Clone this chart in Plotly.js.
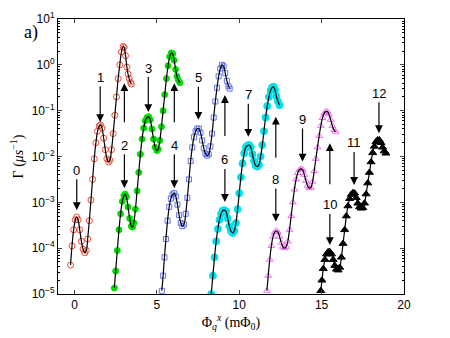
<!DOCTYPE html>
<html>
<head>
<meta charset="utf-8">
<script src="https://cdn.plot.ly/plotly-3.0.1.min.js"></script>
<style>
  html, body { margin: 0; padding: 0; background: #fff; }
  #plot { width: 450px; height: 338px; }
</style>
</head>
<body>
<div id="plot"></div>
<script>
// flux (mPhi0) and log10(Gamma / us^-1), one pair of arrays per run
var redX = [-0.24,-0.15,-0.05,0.05,0.13,0.22,0.32,0.42,0.52,0.62,0.72,0.8,0.9,1.0,1.1,1.2,1.3,1.4,1.5,1.58,1.67,1.77,1.87,1.97,2.07,2.15,2.25,2.35,2.45,2.55,2.65,2.75,2.85,2.95,3.02,3.1,3.18,3.25,3.32,3.4,3.45];
var redLog = [-4.37,-3.95,-3.6,-3.38,-3.32,-3.38,-3.6,-3.85,-4.02,-4.1,-4.05,-3.8,-3.4,-2.95,-2.5,-2.05,-1.7,-1.45,-1.33,-1.31,-1.38,-1.6,-1.85,-2.05,-2.12,-2.08,-1.85,-1.5,-1.1,-0.7,-0.3,0.0,0.28,0.4,0.38,0.2,-0.05,-0.2,-0.3,-0.38,-0.42];

var greenX = [2.42,2.5,2.6,2.7,2.8,2.9,3.0,3.07,3.15,3.25,3.35,3.45,3.52,3.6,3.7,3.8,3.9,4.0,4.1,4.2,4.3,4.4,4.5,4.6,4.7,4.8,4.9,5.0,5.08,5.18,5.28,5.38,5.48,5.58,5.68,5.78,5.88,5.96,6.05,6.14,6.22,6.3,6.4];
var greenLog = [-4.87,-4.5,-4.05,-3.6,-3.25,-2.98,-2.85,-2.82,-2.88,-3.1,-3.35,-3.52,-3.54,-3.45,-3.15,-2.75,-2.35,-1.95,-1.62,-1.38,-1.22,-1.15,-1.13,-1.2,-1.4,-1.62,-1.8,-1.87,-1.84,-1.65,-1.35,-1.0,-0.65,-0.3,-0.02,0.18,0.26,0.24,0.1,-0.1,-0.25,-0.33,-0.39];

var blueX = [5.3,5.38,5.46,5.55,5.65,5.75,5.85,5.95,6.05,6.15,6.25,6.35,6.45,6.55,6.65,6.75,6.85,6.95,7.05,7.15,7.25,7.35,7.45,7.55,7.65,7.75,7.85,7.95,8.05,8.15,8.25,8.35,8.45,8.55,8.65,8.75,8.85,8.95,9.05,9.15,9.25,9.35,9.42];
var blueLog = [-4.93,-4.6,-4.2,-3.8,-3.4,-3.1,-2.92,-2.83,-2.8,-2.87,-3.05,-3.28,-3.45,-3.52,-3.48,-3.25,-2.9,-2.5,-2.1,-1.8,-1.58,-1.45,-1.39,-1.39,-1.48,-1.65,-1.82,-1.94,-1.98,-1.95,-1.78,-1.5,-1.15,-0.8,-0.5,-0.25,-0.08,0.0,-0.03,-0.18,-0.35,-0.47,-0.52];

var cyanX = [8.3,8.4,8.5,8.6,8.7,8.8,8.9,9.0,9.1,9.2,9.3,9.4,9.5,9.6,9.7,9.8,9.9,10.0,10.1,10.2,10.3,10.4,10.5,10.6,10.7,10.8,10.9,11.0,11.1,11.2,11.3,11.4,11.5,11.6,11.7,11.8,11.9,12.0,12.08,12.17,12.25,12.35,12.45];
var cyanLog = [-5.0,-4.6,-4.2,-3.85,-3.58,-3.38,-3.25,-3.18,-3.17,-3.2,-3.35,-3.52,-3.63,-3.67,-3.62,-3.45,-3.15,-2.8,-2.45,-2.15,-1.93,-1.8,-1.76,-1.75,-1.8,-1.95,-2.1,-2.2,-2.22,-2.18,-2.0,-1.75,-1.45,-1.15,-0.9,-0.7,-0.56,-0.49,-0.48,-0.55,-0.68,-0.8,-0.88];

var magentaX = [11.68,11.76,11.85,11.95,12.05,12.15,12.25,12.35,12.45,12.55,12.65,12.75,12.85,12.95,13.05,13.15,13.25,13.35,13.45,13.55,13.65,13.75,13.85,13.95,14.05,14.15,14.25,14.35,14.45,14.55,14.65,14.75,14.85,14.95,15.05,15.15,15.25,15.35,15.45,15.55,15.65,15.75,15.85];
var magentaLog = [-4.93,-4.6,-4.25,-3.95,-3.75,-3.65,-3.62,-3.65,-3.75,-3.88,-3.97,-4.0,-3.97,-3.85,-3.6,-3.3,-3.0,-2.72,-2.5,-2.36,-2.29,-2.27,-2.29,-2.4,-2.53,-2.64,-2.69,-2.68,-2.55,-2.32,-2.05,-1.8,-1.55,-1.33,-1.16,-1.06,-1.02,-1.02,-1.08,-1.2,-1.33,-1.42,-1.46];

var blackX = [14.95,15.02,15.1,15.2,15.3,15.4,15.5,15.6,15.7,15.8,15.9,16.0,16.1,16.2,16.3,16.4,16.5,16.6,16.7,16.8,16.9,17.0,17.1,17.2,17.3,17.4,17.5,17.6,17.7,17.8,17.9,18.0,18.1,18.2,18.3,18.4,18.5,18.6,18.7,18.8,18.9];
var blackLog = [-4.93,-4.7,-4.45,-4.25,-4.13,-4.08,-4.08,-4.13,-4.25,-4.38,-4.46,-4.48,-4.42,-4.2,-3.9,-3.6,-3.3,-3.08,-2.92,-2.83,-2.79,-2.8,-2.9,-3.02,-3.1,-3.13,-3.12,-3.02,-2.82,-2.58,-2.35,-2.12,-1.92,-1.78,-1.68,-1.64,-1.64,-1.7,-1.8,-1.88,-1.93];

// level labels and where their arrows point (flux, log10 Gamma)
var levelLabels = ["0","1","2","3","4","5","6","7","8","9","10","11","12"];
var downTipX   = [0.14,1.56,3.03,4.48,6.06,7.52,9.13,10.55,12.22,13.84,15.5,16.97,18.48];
var downTipLog = [-3.17,-1.25,-2.69,-1.03,-2.69,-1.2,-2.99,-1.57,-3.42,-2.11,-3.93,-2.62,-1.49];
var upTipX   = [3.03,6.06,9.13,12.22,15.5];
var upTipLog = [-0.40,-0.40,-0.66,-1.13,-1.71];

// decade ticks on the log axis
var decades = [-5,-4,-3,-2,-1,0,1];

function toGamma(arr) { return arr.map(function(v) { return Math.pow(10, v); }); }

var runs = [
  {x: redX, y: redLog, color: "#ee4a33", symbol: "circle-open", size: 6},
  {x: greenX, y: greenLog, color: "#00dd00", symbol: "circle", size: 6},
  {x: blueX, y: blueLog, color: "#6173ee", symbol: "square-open", size: 5},
  {x: cyanX, y: cyanLog, color: "#00e3ea", symbol: "circle", size: 7},
  {x: magentaX, y: magentaLog, color: "#f070f0", symbol: "triangle-up-open", size: 6},
  {x: blackX, y: blackLog, color: "#000000", symbol: "triangle-up", size: 7}
];

var data = [];
runs.forEach(function(r) {
  data.push({
    x: r.x, y: toGamma(r.y), type: "scatter", mode: "markers",
    marker: {symbol: r.symbol, size: r.size, color: r.color, line: {color: r.color, width: 1}},
    hoverinfo: "none"
  });
});
runs.forEach(function(r) {
  data.push({
    x: r.x, y: toGamma(r.y), type: "scatter", mode: "lines",
    line: {color: "#000", width: 1.2, shape: "spline", smoothing: 1},
    hoverinfo: "none"
  });
});

function arrowNote(x, y, text, ay) {
  return {
    x: x, y: y, xref: "x", yref: "y", text: text, ax: 0, ay: ay,
    showarrow: true, arrowhead: 2, arrowsize: 1.3, arrowwidth: 1.2,
    arrowcolor: "#000000", standoff: 0,
    font: {family: "Liberation Sans, Arial, sans-serif", size: 13, color: "#000000"}
  };
}

var annotations = [];
var downOffset = [-40,-45,-43,-44,-43,-42,-42,-42,-42,-42,-40,-42,-40];
levelLabels.forEach(function(t, i) {
  annotations.push(arrowNote(downTipX[i], downTipLog[i], t, downOffset[i]));
});
var upOffset = [48,48,50,50,50];
upTipX.forEach(function(x, i) {
  annotations.push(arrowNote(x, upTipLog[i], " ", upOffset[i]));
});
annotations.push({
  text: "a)", xref: "paper", yref: "paper", x: -0.104, y: 0.995,
  showarrow: false, font: {family: "Liberation Serif, Times New Roman, serif", size: 18, color: "#000000"}
});

var majorVals = [], majorText = [], minorVals = [];
decades.forEach(function(p) {
  majorVals.push(Math.pow(10, p));
  majorText.push("10<sup>" + (p < 0 ? "−" + (-p) : p) + "</sup>");
  if (p < 1) {
    for (var k = 2; k <= 9; k++) minorVals.push(k * Math.pow(10, p));
  }
});

var layout = {
  width: 450,
  height: 338,
  margin: {l: 58, r: 46, t: 19, b: 44, pad: 0},
  paper_bgcolor: "#fff",
  plot_bgcolor: "#fff",
  showlegend: false,
  font: {family: "Liberation Sans, Arial, sans-serif", size: 12, color: "#000"},
  xaxis: {
    range: [-1, 20],
    tick0: 0,
    dtick: 5,
    ticks: "inside",
    ticklen: 4,
    showline: true,
    linecolor: "#000",
    linewidth: 1,
    mirror: "allticks",
    showgrid: false,
    zeroline: false,
    title: {text: "Φ<sub><i>q</i></sub><sup><i>x</i></sup> (mΦ<sub>0</sub>)", standoff: 3,
      font: {family: "Liberation Serif, Times New Roman, serif", size: 14}}
  },
  yaxis: {
    type: "log",
    range: [-5, 1],
    tickmode: "array",
    tickvals: majorVals,
    ticktext: majorText,
    ticks: "inside",
    ticklen: 4,
    showline: true,
    linecolor: "#000",
    linewidth: 1,
    mirror: "allticks",
    showgrid: false,
    zeroline: false,
    minor: {tickmode: "array", tickvals: minorVals, ticks: "inside", ticklen: 2, showgrid: false, tickcolor: "#000"},
    title: {text: "Γ (<i>μs</i><sup>−1</sup>)", standoff: 4,
      font: {family: "Liberation Serif, Times New Roman, serif", size: 14}}
  },
  annotations: annotations
};

var config = {displayModeBar: false, staticPlot: true};

Plotly.newPlot("plot", data, layout, config);
</script>
</body>
</html>
